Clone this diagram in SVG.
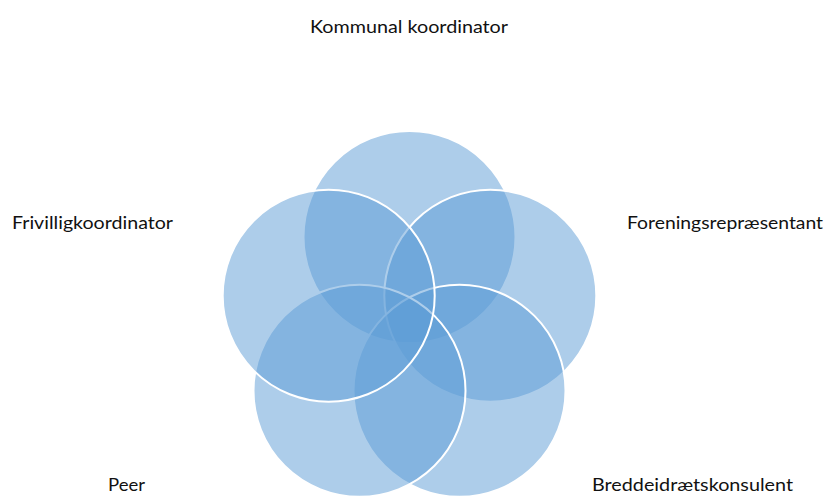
<svg xmlns="http://www.w3.org/2000/svg" width="829" height="496" viewBox="0 0 829 496">
<style>
.c{fill:#5B9BD5;fill-opacity:0.5;stroke:#FFFFFF;stroke-width:2}
.t{font-family:Lato,"Open Sans","Liberation Sans",sans-serif;font-size:17px;fill:#111}
</style>
<rect width="829" height="496" fill="#fff"/>
<g id="connectors"/>
<g id="node-kommunal"><circle class="c" cx="409.5" cy="237" r="106"/></g>
<g id="node-forening"><circle class="c" cx="490.3" cy="295.7" r="106"/></g>
<g id="node-bredde"><circle class="c" cx="459.5" cy="390.8" r="106"/></g>
<g id="node-peer"><circle class="c" cx="359.5" cy="390.8" r="106"/></g>
<g id="node-frivillig"><circle class="c" cx="328.7" cy="295.7" r="106"/></g>
<g id="labels">
<text class="t" x="310" y="33" textLength="198" lengthAdjust="spacingAndGlyphs">Kommunal koordinator</text>
<text class="t" x="12" y="228.5" textLength="161" lengthAdjust="spacingAndGlyphs">Frivilligkoordinator</text>
<text class="t" x="627" y="228.5" textLength="196" lengthAdjust="spacingAndGlyphs">Foreningsrepræsentant</text>
<text class="t" x="108" y="491" textLength="37" lengthAdjust="spacingAndGlyphs">Peer</text>
<text class="t" x="592" y="491" textLength="201" lengthAdjust="spacingAndGlyphs">Breddeidrætskonsulent</text>
</g>
</svg>
